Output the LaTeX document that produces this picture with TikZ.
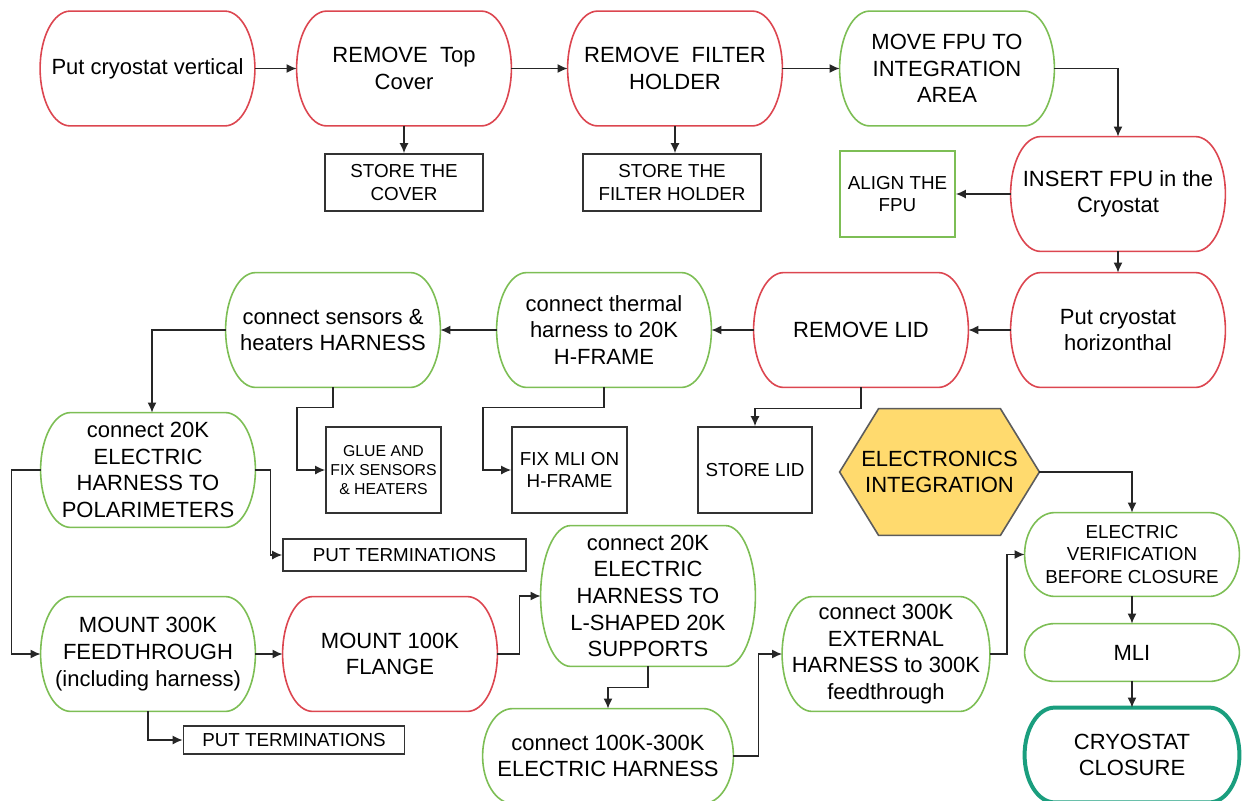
\documentclass[tikz,border=0pt]{standalone}
\usepackage{fontspec}
\setmainfont{Liberation Sans}
\usetikzlibrary{calc,arrows.meta,backgrounds}
\definecolor{cred}{HTML}{DC4650}
\definecolor{cgreen}{HTML}{7DBE55}
\definecolor{cteal}{HTML}{1A9E7E}
\definecolor{cyel}{HTML}{FFDA6E}
\definecolor{cgray}{HTML}{333333}
\newcommand\capsule[2]{%
  \draw[#2] ([xshift=-15pt]#1.north east)
    .. controls ([xshift=-6.7pt]#1.north east) and ($(#1.north east)!.4477!(#1.east)$) .. (#1.east)
    .. controls ($(#1.south east)!.4477!(#1.east)$) and ([xshift=-6.7pt]#1.south east) .. ([xshift=-15pt]#1.south east)
    -- ([xshift=15pt]#1.south west)
    .. controls ([xshift=6.7pt]#1.south west) and ($(#1.south west)!.4477!(#1.west)$) .. (#1.west)
    .. controls ($(#1.north west)!.4477!(#1.west)$) and ([xshift=6.7pt]#1.north west) .. ([xshift=15pt]#1.north west)
    -- cycle;}
\tikzset{
  capnode/.style={rectangle, inner sep=0pt, align=center, minimum width=107pt, minimum height=57pt,
    font=\fontsize{11}{13.3}\selectfont},
  smallcapnode/.style={capnode, font=\fontsize{9.4}{11.3}\selectfont},
  redline/.style={draw=cred, line width=0.8pt},
  greenline/.style={draw=cgreen, line width=0.8pt},
  tealline/.style={draw=cteal, line width=2pt},
  box/.style={rectangle, draw=cgray, line width=0.8pt, inner sep=0pt, align=center,
    font=\fontsize{9.4}{11.3}\selectfont},
  conn/.style={draw=black!85, line width=0.75pt, -{Latex[length=5pt,width=4.5pt]}},
}
\begin{document}
\begin{tikzpicture}[x=0.5pt,y=-0.5pt]
\useasboundingbox (0,0) rectangle (1243,800);
% capsules
\node[capnode] (A) at (147.5,68.5) {Put cryostat vertical};
\node[capnode] (B) at (404,68.5) {REMOVE~~Top\\Cover};
\node[capnode] (C) at (675,68.5) {REMOVE~~FILTER\\HOLDER};
\node[capnode] (D) at (947,68.5) {MOVE FPU TO\\INTEGRATION\\AREA};
\node[capnode] (E) at (1118,194) {INSERT FPU in the\\Cryostat};
\node[capnode] (G) at (1118,330) {Put cryostat\\horizonthal};
\node[capnode] (H) at (861,330) {REMOVE LID};
\node[capnode] (I) at (604,330) {connect thermal\\harness to 20K\\H-FRAME};
\node[capnode] (J) at (333,330) {connect sensors \&\\heaters HARNESS};
\node[capnode] (K) at (148,470) {connect 20K\\ELECTRIC\\HARNESS TO\\POLARIMETERS};
\node[capnode] (L) at (148,654) {MOUNT 300K\\FEEDTHROUGH\\(including harness)};
\node[capnode] (M) at (390,654) {MOUNT 100K\\FLANGE};
\node[capnode, minimum height=70pt] (N) at (648,596) {connect 20K\\ELECTRIC\\HARNESS TO\\L-SHAPED 20K\\SUPPORTS};
\node[capnode, minimum width=125pt, minimum height=47pt] (O) at (608,756) {connect 100K-300K\\ELECTRIC HARNESS};
\node[capnode, minimum width=103.5pt] (P) at (886,654) {connect 300K\\EXTERNAL\\HARNESS to 300K\\feedthrough};
\node[smallcapnode, minimum height=41.5pt] (Q) at (1132,554.5) {ELECTRIC\\VERIFICATION\\BEFORE CLOSURE};
\node[capnode, minimum height=28.5pt] (S) at (1132,652.5) {MLI};
\node[capnode, minimum height=47pt] (T) at (1132,755) {CRYOSTAT\\CLOSURE};
\capsule{A}{redline}
\capsule{B}{redline}
\capsule{C}{redline}
\capsule{D}{greenline}
\capsule{E}{redline}
\capsule{G}{redline}
\capsule{H}{redline}
\capsule{I}{greenline}
\capsule{J}{greenline}
\capsule{K}{greenline}
\capsule{L}{greenline}
\capsule{M}{redline}
\capsule{N}{greenline}
\capsule{O}{greenline}
\capsule{P}{greenline}
\capsule{Q}{greenline}
\capsule{S}{greenline}
\capsule{T}{tealline}
% boxes
\node[box, minimum width=79pt, minimum height=28.5pt] (sc) at (404,182.5) {STORE THE\\COVER};
\node[box, minimum width=89pt, minimum height=28.5pt] (sfh) at (672,182.5) {STORE THE\\FILTER HOLDER};
\node[box, draw=cgreen, minimum width=57.5pt, minimum height=43pt] (F) at (897.5,194) {ALIGN THE\\FPU};
\node[box, minimum width=57.5pt, minimum height=43pt, font=\fontsize{7.9}{9.5}\selectfont] (glue) at (383.5,470) {GLUE AND\\FIX SENSORS\\\& HEATERS};
\node[box, minimum width=57.5pt, minimum height=43pt] (fix) at (569.5,470) {FIX MLI ON\\H-FRAME};
\node[box, minimum width=57pt, minimum height=43pt] (slid) at (755,470) {STORE LID};
\node[box, minimum width=121.5pt, minimum height=16pt] (put1) at (404.5,555) {PUT TERMINATIONS};
\node[box, minimum width=110.5pt, minimum height=14pt] (put2) at (294,740) {PUT TERMINATIONS};
% hexagon
\node[rectangle, inner sep=0pt, align=center, minimum width=99.5pt, minimum height=63pt,
  font=\fontsize{11}{13.3}\selectfont] (R) at (939.5,472) {ELECTRONICS\\INTEGRATION};
\begin{scope}[on background layer]
\filldraw[fill=cyel, draw=cgray!80, line width=0.8pt] (R.west) -- ([xshift=19.5pt]R.north west) -- ([xshift=-19.5pt]R.north east)
  -- (R.east) -- ([xshift=-19.5pt]R.south east) -- ([xshift=19.5pt]R.south west) -- cycle;
\end{scope}
% connectors
\draw[conn] (A.east) -- (B.west);
\draw[conn] (B.east) -- (C.west);
\draw[conn] (C.east) -- (D.west);
\draw[conn] (B.south) -- (sc.north);
\draw[conn] (C.south) -- (C.south |- sfh.north);
\draw[conn] (D.east) -| (E.north);
\draw[conn] (E.west) -- (F.east);
\draw[conn] (E.south) -- (G.north);
\draw[conn] (G.west) -- (H.east);
\draw[conn] (H.west) -- (I.east);
\draw[conn] (I.west) -- (J.east);
\draw[conn] (J.west) -| ([xshift=2pt]K.north);
\draw[conn] (J.south) -- ++(0,20) -- ++(-36,0) |- (glue.west);
\draw[conn] (I.south) -- ++(0,20) -- ++(-121,0) |- (fix.west);
\draw[conn] (H.south) -- ++(0,21) -| (slid.north);
\draw[conn] (K.east) -- ++(15,0) |- (put1.west);
\draw[conn] (K.west) -- ++(-29,0) |- (L.west);
\draw[conn] (L.east) -- (M.west);
\draw[conn] (L.south) |- (put2.west);
\draw[conn] (M.east) -- ++(22,0) |- (N.west);
\draw[conn] (N.south) -- ++(0,21) -| (O.north);
\draw[conn] (O.east) -- ++(25,0) |- (P.west);
\draw[conn] (P.east) -- ++(17,0) |- (Q.west);
\draw[conn] (R.east) -| (Q.north);
\draw[conn] (Q.south) -- (S.north);
\draw[conn] (S.south) -- (T.north);
\end{tikzpicture}
\end{document}
